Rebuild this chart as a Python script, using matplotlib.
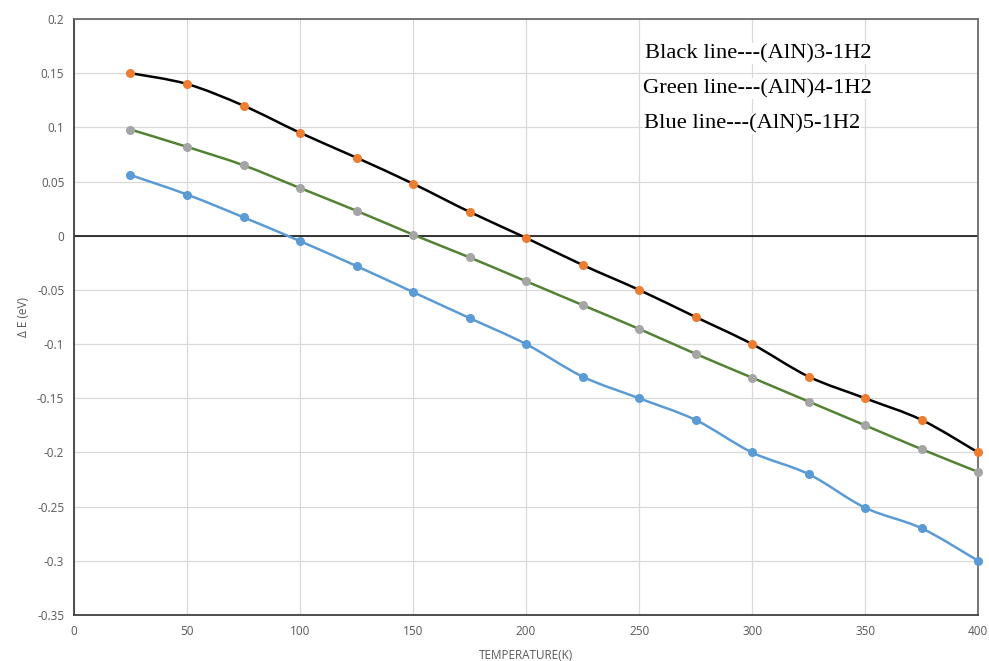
import matplotlib
matplotlib.use("Agg")
import matplotlib.pyplot as plt
from matplotlib.path import Path
from matplotlib.patches import PathPatch
from matplotlib.ticker import MultipleLocator, FuncFormatter

# --- data ---
temps = [25, 50, 75, 100, 125, 150, 175, 200, 225, 250, 275, 300, 325, 350, 375, 400]
black = [0.150, 0.140, 0.120, 0.095, 0.072, 0.048, 0.022, -0.002, -0.027, -0.050,
         -0.075, -0.100, -0.130, -0.150, -0.170, -0.200]
green = [0.098, 0.082, 0.065, 0.044, 0.023, 0.001, -0.020, -0.042, -0.064, -0.086,
         -0.109, -0.131, -0.153, -0.175, -0.197, -0.218]
blue = [0.056, 0.038, 0.017, -0.005, -0.028, -0.052, -0.076, -0.100, -0.130, -0.150,
        -0.170, -0.200, -0.220, -0.251, -0.270, -0.300]
labels = ["Black line---(AlN)3-1H2", "Green line---(AlN)4-1H2", "Blue line---(AlN)5-1H2"]


def smooth_path(xs, ys):
    # Excel-style smoothed line: Catmull-Rom segments as cubic Beziers
    pts = list(zip(xs, ys))
    n = len(pts)
    verts = [pts[0]]
    codes = [Path.MOVETO]
    for i in range(n - 1):
        p0 = pts[i - 1] if i > 0 else pts[i]
        p1 = pts[i]
        p2 = pts[i + 1]
        p3 = pts[i + 2] if i + 2 < n else pts[i + 1]
        c1 = (p1[0] + (p2[0] - p0[0]) / 6, p1[1] + (p2[1] - p0[1]) / 6)
        c2 = (p2[0] - (p3[0] - p1[0]) / 6, p2[1] - (p3[1] - p1[1]) / 6)
        verts += [c1, c2, p2]
        codes += [Path.CURVE4] * 3
    return Path(verts, codes)


fig = plt.figure(figsize=(9.89, 6.61), dpi=100)
ax = fig.add_axes([0.0748, 0.0696, 0.9142, 0.9017])

series = [
    (black, "#000000", "#ED7D31"),
    (green, "#548235", "#A5A5A5"),
    (blue, "#5B9BD5", "#5B9BD5"),
]
for ys, lc, mc in series:
    ax.add_patch(PathPatch(smooth_path(temps, ys), fill=False, edgecolor=lc, lw=1.8, zorder=3))
    ax.plot(temps, ys, linestyle="none", marker="o", markersize=5.5, color=mc,
            zorder=4, clip_on=False)

ax.axhline(0, color="black", lw=1.1, zorder=2)

ax.set_xlim(0, 400)
ax.set_ylim(-0.35, 0.2)
ax.xaxis.set_major_locator(MultipleLocator(50))
ax.yaxis.set_major_locator(MultipleLocator(0.05))
ax.yaxis.set_major_formatter(FuncFormatter(lambda v, p: "0" if abs(v) < 1e-9 else f"{v:g}"))
ax.grid(True, color="#d9d9d9", lw=0.9)
ax.set_axisbelow(True)
ax.tick_params(length=0, labelsize=8.5, labelcolor="#595959", pad=7)
for lab in ax.get_xticklabels() + ax.get_yticklabels():
    lab.set_fontfamily("Open Sans")

for side in ("left", "bottom"):
    ax.spines[side].set_color("#404040")
    ax.spines[side].set_linewidth(1.3)
for side in ("top", "right"):
    ax.spines[side].set_color("#6a6a6a")
    ax.spines[side].set_linewidth(1.3)

ax.set_xlabel("TEMPERATURE(K)", fontsize=8.5, color="#595959", family="Open Sans", labelpad=8)
ax.set_ylabel("\u0394 E (eV)", fontsize=8.5, color="#595959", family="Open Sans", labelpad=5)

for i, (txt, xo) in enumerate(zip(labels, [0.632, 0.629, 0.630])):
    ax.text(xo, 0.942 - i * 0.0587, txt, transform=ax.transAxes, fontsize=16.2,
            family="Liberation Serif", va="center", ha="left",
            bbox=dict(facecolor="white", edgecolor="none", pad=0.5), zorder=5)

fig.savefig("out.png", dpi=100)
